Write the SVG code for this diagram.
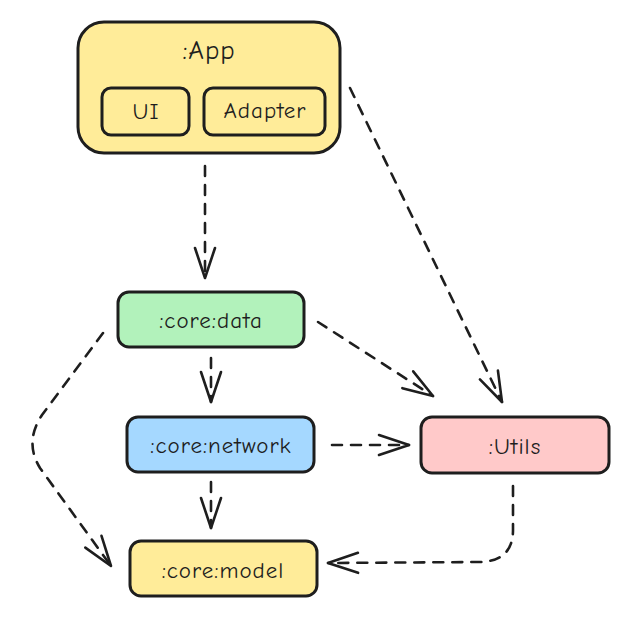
<svg xmlns="http://www.w3.org/2000/svg" width="639" height="619" viewBox="0 0 639 619">
<defs>
<style>
.box{stroke:#1e1e1e;stroke-width:3;stroke-linejoin:round}
.lbl{font-family:"Comic Neue","Liberation Sans",sans-serif;font-size:23px;letter-spacing:1px;fill:#1e1e1e;text-anchor:middle;dominant-baseline:central}
.conn path{fill:none;stroke:#1e1e1e;stroke-width:2.6;stroke-dasharray:10 9;stroke-linecap:round;marker-end:url(#ah)}
</style>
<marker id="ah" markerUnits="userSpaceOnUse" viewBox="-34 -14 38 28" markerWidth="38" markerHeight="28" refX="0" refY="0" orient="auto">
<path d="M -30 -10 L 0 0 L -30 10" fill="none" stroke="#1e1e1e" stroke-width="2.6" stroke-linecap="round" stroke-linejoin="round" stroke-dasharray="none"/>
</marker>
</defs>
<rect width="639" height="619" fill="#ffffff"/>
<g class="conn">
<path d="M 205 166 L 205 278"/>
<path d="M 350 88 L 502 402"/>
<path d="M 211 358 L 211 402"/>
<path d="M 318 322 L 433 396"/>
<path d="M 332 445 L 409 445"/>
<path d="M 211 482 L 211 528"/>
<path d="M 103 333 L 42 415 Q 24 442 40 468 L 111 566"/>
<path d="M 513 486 L 513 530 Q 513 561 480 562 L 328 563"/>
</g>
<g id="app">
<rect class="box" x="78" y="22" width="262" height="131" rx="26" fill="#ffec99"/>
<text class="lbl" x="209" y="50" style="font-size:27px">:App</text>
</g>
<g id="ui">
<rect class="box" x="102" y="88" width="87" height="47" rx="9" fill="#ffec99"/>
<text class="lbl" x="146" y="111">UI</text>
</g>
<g id="adapter">
<rect class="box" x="204" y="88" width="121" height="47" rx="9" fill="#ffec99"/>
<text class="lbl" x="265" y="110">Adapter</text>
</g>
<g id="coredata">
<rect class="box" x="118" y="292" width="186" height="55" rx="11" fill="#b2f2bb"/>
<text class="lbl" x="211" y="320">:core:data</text>
</g>
<g id="corenetwork">
<rect class="box" x="127" y="417" width="187" height="55" rx="11" fill="#a5d8ff"/>
<text class="lbl" x="221" y="445">:core:network</text>
</g>
<g id="coremodel">
<rect class="box" x="130" y="541" width="187" height="55" rx="11" fill="#ffec99"/>
<text class="lbl" x="223" y="570">:core:model</text>
</g>
<g id="utils">
<rect class="box" x="421" y="417" width="188" height="56" rx="11" fill="#ffc9c9"/>
<text class="lbl" x="515" y="446">:Utils</text>
</g>
</svg>
